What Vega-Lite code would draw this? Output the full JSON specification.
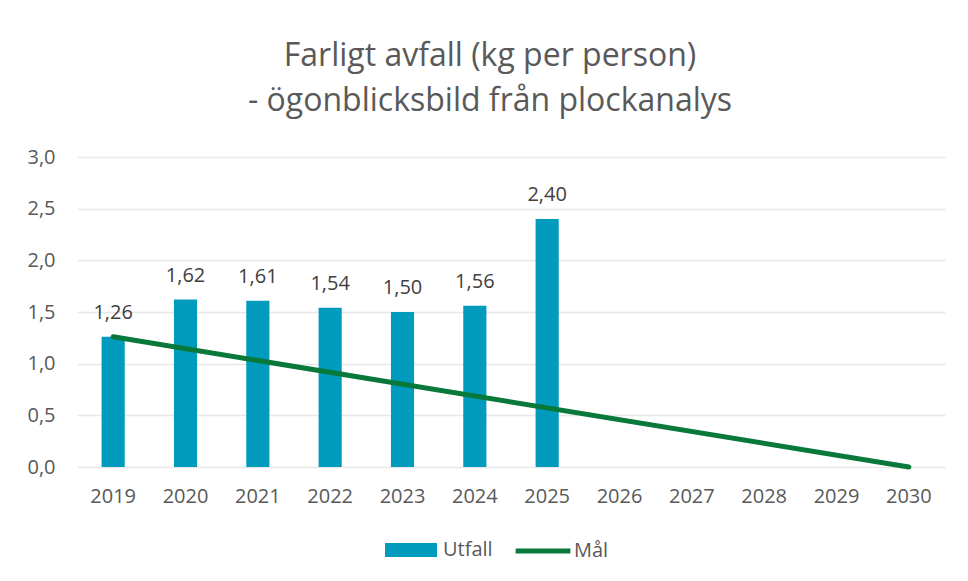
{
  "$schema": "https://vega.github.io/schema/vega-lite/v6.json",
  "width": 868,
  "height": 310,
  "autosize": "none",
  "padding": {"left": 77, "top": 157, "right": 23, "bottom": 114},
  "background": "white",
  "config": {
    "locale": {"number": {"decimal": ",", "thousands": " ", "grouping": [3], "currency": ["", " kr"]}},
    "view": {"stroke": null},
    "font": "Open Sans"
  },
  "title": {
    "text": ["Farligt avfall (kg per person)", "- ögonblicksbild från plockanalys"],
    "font": "Open Sans",
    "fontSize": 32,
    "fontWeight": "normal",
    "color": "#595959",
    "lineHeight": 45,
    "anchor": "middle",
    "dx": -21,
    "offset": 29
  },
  "datasets": {
    "utfall": [
      {"year": "2019", "serie": "Utfall", "value": 1.26},
      {"year": "2020", "serie": "Utfall", "value": 1.62},
      {"year": "2021", "serie": "Utfall", "value": 1.61},
      {"year": "2022", "serie": "Utfall", "value": 1.54},
      {"year": "2023", "serie": "Utfall", "value": 1.50},
      {"year": "2024", "serie": "Utfall", "value": 1.56},
      {"year": "2025", "serie": "Utfall", "value": 2.40}
    ],
    "mal": [
      {"year": "2019", "serie": "Mål", "value": 1.26},
      {"year": "2030", "serie": "Mål", "value": 0}
    ]
  },
  "encoding": {
    "x": {
      "field": "year",
      "type": "ordinal",
      "scale": {
        "domain": ["2019","2020","2021","2022","2023","2024","2025","2026","2027","2028","2029","2030"],
        "paddingInner": 0.68,
        "paddingOuter": 0.34
      },
      "axis": {
        "title": null,
        "labelAngle": 0,
        "labelFontSize": 20,
        "labelColor": "#595959",
        "labelPadding": 19,
        "domain": false,
        "ticks": false,
        "grid": false
      }
    },
    "y": {
      "field": "value",
      "type": "quantitative",
      "scale": {"domain": [0, 3], "nice": false},
      "axis": {
        "title": null,
        "values": [0, 0.5, 1, 1.5, 2, 2.5, 3],
        "format": ".1f",
        "labelFontSize": 20,
        "labelColor": "#595959",
        "labelPadding": 22,
        "domain": false,
        "ticks": false,
        "gridColor": "#e8e8e8",
        "gridWidth": 1.5
      }
    }
  },
  "layer": [
    {
      "data": {"name": "utfall"},
      "mark": {"type": "bar"},
      "encoding": {
        "fill": {
          "field": "serie",
          "type": "nominal",
          "scale": {"domain": ["Utfall"], "range": ["#009bbd"]},
          "legend": {
            "title": null,
            "orient": "none",
            "legendX": 308,
            "legendY": 367,
            "padding": 0,
            "symbolType": "M-1,-0.27H1V0.27H-1Z",
            "symbolSize": 2704,
            "symbolStrokeWidth": 0,
            "labelFontSize": 20,
            "labelColor": "#595959",
            "labelOffset": 6
          }
        }
      }
    },
    {
      "data": {"name": "utfall"},
      "mark": {"type": "text", "baseline": "alphabetic", "dy": -18, "fontSize": 20, "color": "#404040"},
      "encoding": {
        "text": {"field": "value", "type": "quantitative", "format": ".2f"}
      }
    },
    {
      "data": {"name": "mal"},
      "mark": {"type": "line", "strokeWidth": 5, "strokeCap": "round"},
      "encoding": {
        "stroke": {
          "field": "serie",
          "type": "nominal",
          "scale": {"domain": ["Mål"], "range": ["#08793a"]},
          "legend": {
            "title": null,
            "orient": "none",
            "legendX": 436,
            "legendY": 364,
            "padding": 0,
            "symbolType": "stroke",
            "symbolSize": 3000,
            "symbolStrokeWidth": 5,
            "labelFontSize": 20,
            "labelColor": "#595959",
            "labelOffset": 1
          }
        }
      }
    }
  ]
}
